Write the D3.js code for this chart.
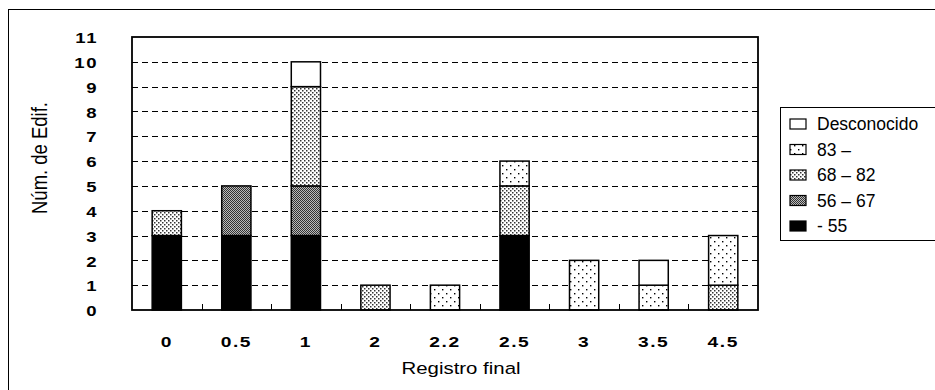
<!DOCTYPE html>
<html><head><meta charset="utf-8">
<script src="https://cdn.jsdelivr.net/npm/d3@7"></script>
<style>body{margin:0;background:#fff}svg{display:block}</style>
</head><body>
<svg id="chart" width="935" height="390"></svg>
<script>
const categories = ["0","0.5","1","2","2.2","2.5","3","3.5","4.5"];
const seriesNames = ["- 55","56 – 67","68 – 82","83 –","Desconocido"];
const s55   = [3,3,3,0,0,3,0,0,0];
const s5667 = [0,2,2,0,0,0,0,0,0];
const s6882 = [1,0,4,1,0,2,0,0,1];
const s83   = [0,0,0,0,1,1,2,1,2];
const sDesc = [0,0,1,0,0,0,0,1,0];
const yTicks = [0,1,2,3,4,5,6,7,8,9,10,11];
const legendOrder = ["Desconocido","83 –","68 – 82","56 – 67","- 55"];

const seriesVals = [s55,s5667,s6882,s83,sDesc];
const keys = ["k0","k1","k2","k3","k4"];
const rows = categories.map((c,i)=>{const r={cat:c};keys.forEach((k,j)=>r[k]=seriesVals[j][i]);return r;});
const fills = {k0:"#000",k1:"url(#p5667)",k2:"url(#p6882)",k3:"url(#p83)",k4:"#fff"};
const FONT = "Liberation Sans, Arial, sans-serif";

const svg = d3.select("#chart");
const defs = svg.append("defs");
let p = defs.append("pattern").attr("id","p83").attr("width",8).attr("height",8).attr("patternUnits","userSpaceOnUse");
p.append("rect").attr("width",8).attr("height",8).attr("fill","#fff");
p.append("rect").attr("x",2).attr("y",1).attr("width",1.4).attr("height",1.4).attr("fill","#000");
p.append("rect").attr("x",6).attr("y",5).attr("width",1.4).attr("height",1.4).attr("fill","#000");
p = defs.append("pattern").attr("id","p6882").attr("width",4).attr("height",4).attr("patternUnits","userSpaceOnUse");
p.append("rect").attr("width",4).attr("height",4).attr("fill","#fff");
p.append("rect").attr("x",0).attr("y",0).attr("width",1.5).attr("height",1.5).attr("fill","#333");
p.append("rect").attr("x",2).attr("y",2).attr("width",1.5).attr("height",1.5).attr("fill","#333");
p = defs.append("pattern").attr("id","p5667").attr("width",2).attr("height",2).attr("patternUnits","userSpaceOnUse");
p.append("rect").attr("width",2).attr("height",2).attr("fill","#bbb");
p.append("rect").attr("x",0).attr("y",0).attr("width",1).attr("height",1).attr("fill","#333");
p.append("rect").attr("x",1).attr("y",1).attr("width",1).attr("height",1).attr("fill","#333");

svg.append("rect").attr("x",8.5).attr("y",9.5).attr("width",960).attr("height",420)
  .attr("fill","none").attr("stroke","#000").attr("stroke-width",1);

const m = {l:132,t:37,r:758,b:310};
const x = d3.scaleBand().domain(categories).range([m.l,m.r]).paddingInner(0.58).paddingOuter(0.29);
const xb = d3.scaleBand().domain(categories).range([m.l,m.r]);
const y = d3.scaleLinear().domain([0,11]).range([m.b,m.t]);

svg.append("g").selectAll("line").data(yTicks.filter(t=>t>0&&t<11)).join("line")
  .attr("x1",m.l).attr("x2",m.r).attr("y1",d=>Math.round(y(d))+0.5).attr("y2",d=>Math.round(y(d))+0.5)
  .attr("stroke","#000").attr("stroke-width",1).attr("stroke-dasharray","6,4");

svg.append("g").selectAll("line").data(categories.slice(1)).join("line")
  .attr("x1",d=>Math.round(xb(d))+0.5).attr("x2",d=>Math.round(xb(d))+0.5)
  .attr("y1",m.b).attr("y2",m.b-6).attr("stroke","#000").attr("stroke-width",1);

const stack = d3.stack().keys(keys)(rows);
svg.append("g").selectAll("g").data(stack).join("g")
  .attr("fill",d=>fills[d.key])
  .selectAll("rect").data(d=>d.filter(s=>s[1]-s[0]>0)).join("rect")
  .attr("x",d=>x(d.data.cat)).attr("width",x.bandwidth())
  .attr("y",d=>y(d[1])).attr("height",d=>y(d[0])-y(d[1]))
  .attr("stroke","#000").attr("stroke-width",1.5);

svg.append("rect").attr("x",m.l).attr("y",m.t).attr("width",m.r-m.l).attr("height",m.b-m.t)
  .attr("fill","none").attr("stroke","#000").attr("stroke-width",1.8);

svg.append("g").selectAll("text").data(yTicks).join("text")
  .attr("transform",d=>`translate(98,${y(d)+1}) scale(1.28,1)`)
  .attr("dy","0.36em").attr("text-anchor","end")
  .attr("font-family",FONT).attr("font-size",14.5).attr("font-weight","bold")
  .attr("letter-spacing","1.2px")
  .text(d=>d);

svg.append("g").selectAll("text").data(categories).join("text")
  .attr("transform",d=>`translate(${xb(d)+xb.bandwidth()/2},347) scale(1.28,1)`)
  .attr("text-anchor","middle")
  .attr("font-family",FONT).attr("font-size",15).attr("font-weight","bold")
  .attr("letter-spacing","1.2px")
  .text(d=>d);

svg.append("text").attr("transform","translate(461,374) scale(1.2,1)").attr("text-anchor","middle")
  .attr("font-family",FONT).attr("font-size",17).text("Registro final");
svg.append("text").attr("transform","translate(47,158) rotate(-90) scale(1,1.15)").attr("text-anchor","middle")
  .attr("font-family",FONT).attr("font-size",18.5).text("Núm. de Edif.");

const lg = svg.append("g");
lg.append("rect").attr("x",780.5).attr("y",107.5).attr("width",200).attr("height",133)
  .attr("fill","#fff").attr("stroke","#000").attr("stroke-width",1);
const keyOf = {"Desconocido":"k4","83 –":"k3","68 – 82":"k2","56 – 67":"k1","- 55":"k0"};
const ly = d3.scalePoint().domain(legendOrder).range([124,226]);
lg.selectAll("rect.sw").data(legendOrder).join("rect").attr("class","sw")
  .attr("x",790).attr("y",d=>ly(d)-5).attr("width",16).attr("height",10)
  .attr("fill",d=>fills[keyOf[d]]).attr("stroke","#000").attr("stroke-width",1.2);
lg.selectAll("text").data(legendOrder).join("text")
  .attr("x",817).attr("y",d=>ly(d)).attr("dy","0.36em")
  .attr("font-family",FONT).attr("font-size",17.5)
  .text(d=>d);
</script>
</body></html>
